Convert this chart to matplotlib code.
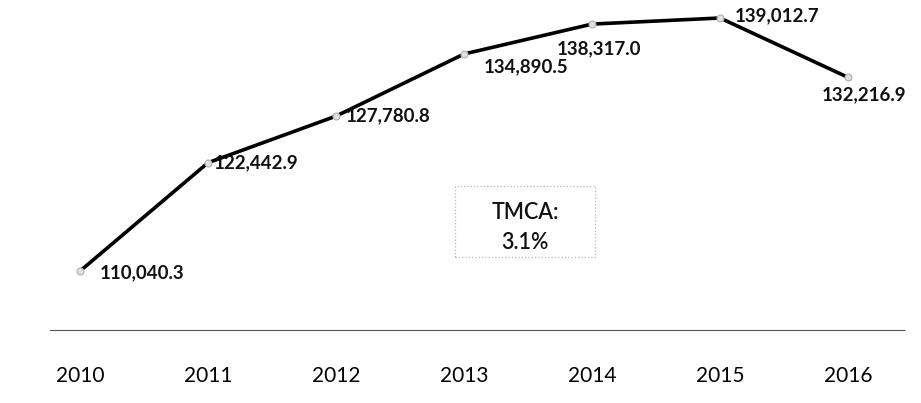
import matplotlib.pyplot as plt
from matplotlib.patches import Rectangle

# datos
years = [2010, 2011, 2012, 2013, 2014, 2015, 2016]
values = [110040.3, 122442.9, 127780.8, 134890.5, 138317.0, 139012.7, 132216.9]
labels = ["110,040.3", "122,442.9", "127,780.8", "134,890.5", "138,317.0", "139,012.7", "132,216.9"]

# desplazamiento de cada etiqueta (pixeles) y alineacion
offsets = [(20, -2), (6, 0), (10, 0), (20, -13), (7, -25), (15, 2), (16, -17)]
aligns = ["left", "left", "left", "left", "center", "left", "center"]

plt.rcParams['font.family'] = ['Lato', 'DejaVu Sans']

fig = plt.figure(figsize=(9.21, 4.03), dpi=100)
ax = fig.add_axes([50 / 921, 73 / 403, 855 / 921, 330 / 403])

ax.plot(years, values, color='black', lw=2.6, marker='o', ms=5,
        mfc='#e0e0e0', mec='#b0b0b0', mew=0.8, zorder=3)

for x, y, lab, off, ha in zip(years, values, labels, offsets, aligns):
    ax.annotate(lab, (x, y), xytext=off, textcoords='offset pixels',
                ha=ha, va='center', fontsize=13.5, fontweight='bold', color='#111111')

# recuadro TMCA
ax.add_patch(Rectangle((0.474, 0.221), 0.163, 0.215, transform=ax.transAxes,
                       fill=False, ec='#b8b8b8', ls=':', lw=0.9))
ax.text(0.556, 0.357, "TMCA:", transform=ax.transAxes, ha='center', va='center',
        fontsize=15.5, fontweight='semibold', color='#111111')
ax.text(0.556, 0.266, "3.1%", transform=ax.transAxes, ha='center', va='center',
        fontsize=15.5, fontweight='semibold', color='#111111')

ax.set_xlim(2009.766, 2016.445)
ax.set_ylim(103300, 141073)
ax.set_yticks([])
ax.set_xticks(years)
ax.set_xticklabels([str(y) for y in years], fontsize=15)
ax.tick_params(axis='x', length=0, pad=26)
for s in ['top', 'left', 'right']:
    ax.spines[s].set_visible(False)
ax.spines['bottom'].set_color('#555555')
ax.spines['bottom'].set_linewidth(0.8)
ax.spines['bottom'].set_linestyle((0, (6, 1)))

fig.savefig('out.png', dpi=100)
